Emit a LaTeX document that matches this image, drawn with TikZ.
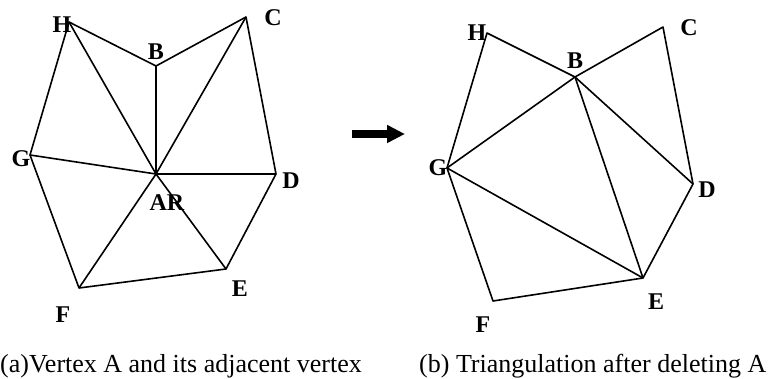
\documentclass[tikz,border=0pt]{standalone}
\usepackage{fontspec}
\setmainfont{Liberation Serif}
\usetikzlibrary{arrows.meta}
\begin{document}
\begin{tikzpicture}[x=1pt,y=-1pt,
  edge/.style={line width=1.6pt, line join=round},
  lbl/.style={font=\fontsize{24}{24}\selectfont\bfseries, inner sep=0pt},
  capt/.style={font=\fontsize{26}{26}\selectfont, inner sep=0pt, anchor=base west}]
\useasboundingbox (0,0) rectangle (769,379);
% left figure vertices
\coordinate (lH) at (69,22);
\coordinate (lB) at (156,66);
\coordinate (lC) at (246,17);
\coordinate (lD) at (276,174);
\coordinate (lA) at (156,174);
\coordinate (lG) at (30,155);
\coordinate (lF) at (79,288);
\coordinate (lE) at (226,269);
\draw[edge] (lH) -- (lB) -- (lC) -- (lD) -- (lE) -- (lF) -- (lG) -- cycle;
\foreach \v in {lH,lB,lC,lD,lE,lF,lG} \draw[edge] (lA) -- (\v);
\node[lbl] (tlH) at (62,25) {H};
\node[lbl] (tlB) at (156,52) {B};
\node[lbl] (tlC) at (273,18) {C};
\node[lbl] (tlD) at (291,181) {D};
\node[lbl] (tlG) at (21,159) {G};
\node[lbl] (tlA) at (167,203) {AR};
\node[lbl] (tlF) at (63,315) {F};
\node[lbl] (tlE) at (240,289) {E};
% arrow
\coordinate (arrS) at (352,134);
\coordinate (arrE) at (405,134);
\draw[line width=8pt, -{Triangle[length=18pt,width=17pt]}] (arrS) -- (arrE);
% right figure vertices
\coordinate (rH) at (487,33);
\coordinate (rB) at (575,77);
\coordinate (rC) at (663,27);
\coordinate (rD) at (693,184);
\coordinate (rG) at (447,168);
\coordinate (rE) at (643,278);
\coordinate (rF) at (493,301);
\draw[edge] (rH) -- (rB) -- (rC) -- (rD) -- (rE) -- (rF) -- (rG) -- cycle;
\draw[edge] (rG) -- (rB);
\draw[edge] (rB) -- (rD);
\draw[edge] (rB) -- (rE);
\draw[edge] (rG) -- (rE);
\node[lbl] (trH) at (477,33) {H};
\node[lbl] (trB) at (575,61) {B};
\node[lbl] (trC) at (689,28) {C};
\node[lbl] (trD) at (707,190) {D};
\node[lbl] (trG) at (438,168) {G};
\node[lbl] (trE) at (656,302) {E};
\node[lbl] (trF) at (483,325) {F};
% captions
\node[capt] (capA) at (0,373) {(a)Vertex A and its adjacent vertex};
\node[capt] (capB) at (419,373) {(b) Triangulation after deleting A};
\end{tikzpicture}
\end{document}
